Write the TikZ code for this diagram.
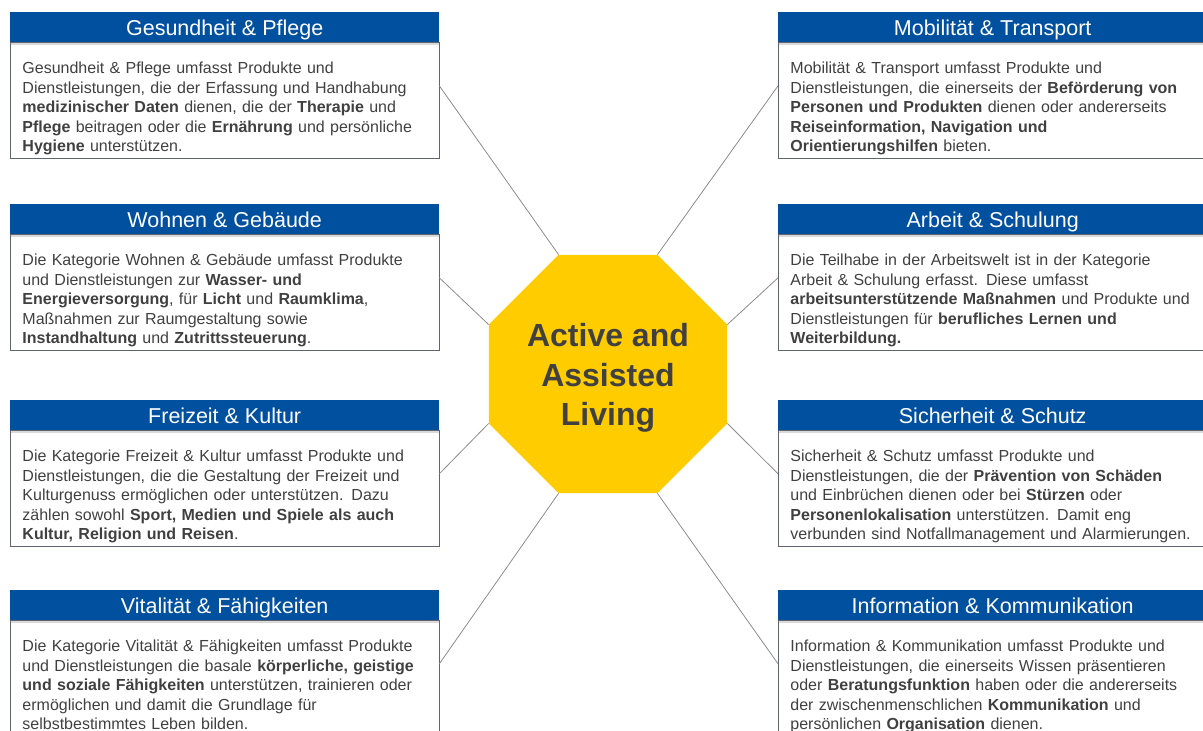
\documentclass[tikz,border=0pt]{standalone}
\usepackage{fontspec}
\setmainfont{Liberation Sans}
\usetikzlibrary{positioning,shapes.geometric,shadows}
\definecolor{hdrblue}{RGB}{0,80,160}
\definecolor{aalyellow}{RGB}{255,204,0}
\definecolor{txtgray}{RGB}{64,64,64}
\definecolor{framegray}{RGB}{96,100,110}
\definecolor{spokegray}{RGB}{140,140,140}
\tikzset{
	hdr/.style={fill=hdrblue, text=white, minimum width=429pt, minimum height=30pt, inner sep=0pt, anchor=north west, text height=19pt, text depth=3pt, font=\fontsize{21.5}{24}\selectfont, drop shadow={shadow xshift=0pt, shadow yshift=-3pt, opacity=0.3}},
	bodybox/.style={draw=framegray, line width=0.8pt, text=txtgray, text width=404.5pt, align=left, inner xsep=12pt, inner ysep=3pt, font=\fontsize{16}{19.5}\selectfont},
	octa/.style={regular polygon, regular polygon sides=8, minimum size=258pt, inner sep=0pt, fill=aalyellow, text=txtgray, align=center, font=\fontsize{32}{39.5}\selectfont\bfseries},
	spoke/.style={draw=spokegray, line width=0.8pt}
}
\newcommand{\bodylines}[1]{\rule{0pt}{28pt}#1\rule[-4pt]{0pt}{4pt}}
\begin{document}
\begin{tikzpicture}[x=1pt,y=-1pt]
				\useasboundingbox (0,0) rectangle (1203,731);
				\clip (0,0) rectangle (1203,731);
				\node[hdr] (gesh) at (10,12) {Gesundheit \& Pflege};
				\node[bodybox, below=0pt of gesh] (gesb) {\bodylines{Gesundheit \& Pflege umfasst Produkte und\\ Dienstleistungen, die der Erfassung und Handhabung\\ \textbf{medizinischer Daten} dienen, die der \textbf{Therapie} und\\ \textbf{Pflege} beitragen oder die \textbf{Ernährung} und persönliche\\ \textbf{Hygiene} unterstützen.}};
				\node[hdr] (wohh) at (10,204) {Wohnen \& Gebäude};
				\node[bodybox, below=0pt of wohh] (wohb) {\bodylines{Die Kategorie Wohnen \& Gebäude umfasst Produkte\\ und Dienstleistungen zur \textbf{Wasser- und}\\ \textbf{Energieversorgung}, für \textbf{Licht} und \textbf{Raumklima},\\ Maßnahmen zur Raumgestaltung sowie\\ \textbf{Instandhaltung} und \textbf{Zutrittssteuerung}.}};
				\node[hdr] (freh) at (10,400) {Freizeit \& Kultur};
				\node[bodybox, below=0pt of freh] (freb) {\bodylines{Die Kategorie Freizeit \& Kultur umfasst Produkte und\\ Dienstleistungen, die die Gestaltung der Freizeit und\\ Kulturgenuss ermöglichen oder unterstützen. Dazu\\ zählen sowohl \textbf{Sport, Medien und Spiele als auch}\\ \textbf{Kultur, Religion und Reisen}.}};
				\node[hdr] (vith) at (10,590) {Vitalität \& Fähigkeiten};
				\node[bodybox, below=0pt of vith] (vitb) {\bodylines{Die Kategorie Vitalität \& Fähigkeiten umfasst Produkte\\ und Dienstleistungen die basale \textbf{körperliche, geistige}\\ \textbf{und soziale Fähigkeiten} unterstützen, trainieren oder\\ ermöglichen und damit die Grundlage für\\ selbstbestimmtes Leben bilden.}};
				\node[hdr] (mobh) at (778,12) {Mobilität \& Transport};
				\node[bodybox, below=0pt of mobh] (mobb) {\bodylines{Mobilität \& Transport umfasst Produkte und\\ Dienstleistungen, die einerseits der \textbf{Beförderung von}\\ \textbf{Personen und Produkten} dienen oder andererseits\\ \textbf{Reiseinformation, Navigation und}\\ \textbf{Orientierungshilfen} bieten.}};
				\node[hdr] (arbh) at (778,204) {Arbeit \& Schulung};
				\node[bodybox, below=0pt of arbh] (arbb) {\bodylines{Die Teilhabe in der Arbeitswelt ist in der Kategorie\\ Arbeit \& Schulung erfasst. Diese umfasst\\ \textbf{arbeitsunterstützende Maßnahmen} und Produkte und\\ Dienstleistungen für \textbf{berufliches Lernen und}\\ \textbf{Weiterbildung.}}};
				\node[hdr] (sich) at (778,400) {Sicherheit \& Schutz};
				\node[bodybox, below=0pt of sich] (sicb) {\bodylines{Sicherheit \& Schutz umfasst Produkte und\\ Dienstleistungen, die der \textbf{Prävention von Schäden}\\ und Einbrüchen dienen oder bei \textbf{Stürzen} oder\\ \textbf{Personenlokalisation} unterstützen. Damit eng\\ verbunden sind Notfallmanagement und Alarmierungen.}};
				\node[hdr] (infh) at (778,590) {Information \& Kommunikation};
				\node[bodybox, below=0pt of infh] (infb) {\bodylines{Information \& Kommunikation umfasst Produkte und\\ Dienstleistungen, die einerseits Wissen präsentieren\\ oder \textbf{Beratungsfunktion} haben oder die andererseits\\ der zwischenmenschlichen \textbf{Kommunikation} und\\ persönlichen \textbf{Organisation} dienen.}};
				\node[octa] (aal) at (608,374) {\rule{0pt}{31pt}Active and\\Assisted\\Living};
				\draw[spoke] (aal.corner 2) -- ([yshift=15pt]gesb.east);
				\draw[spoke] (aal.corner 3) -- ([yshift=15pt]wohb.east);
				\draw[spoke] (aal.corner 4) -- ([yshift=15pt]freb.east);
				\draw[spoke] (aal.corner 5) -- ([yshift=15pt]vitb.east);
				\draw[spoke] (aal.corner 6) -- ([yshift=15pt]infb.west);
				\draw[spoke] (aal.corner 7) -- ([yshift=15pt]sicb.west);
				\draw[spoke] (aal.corner 8) -- ([yshift=15pt]arbb.west);
				\draw[spoke] (aal.corner 1) -- ([yshift=15pt]mobb.west);
\end{tikzpicture}
\end{document}
